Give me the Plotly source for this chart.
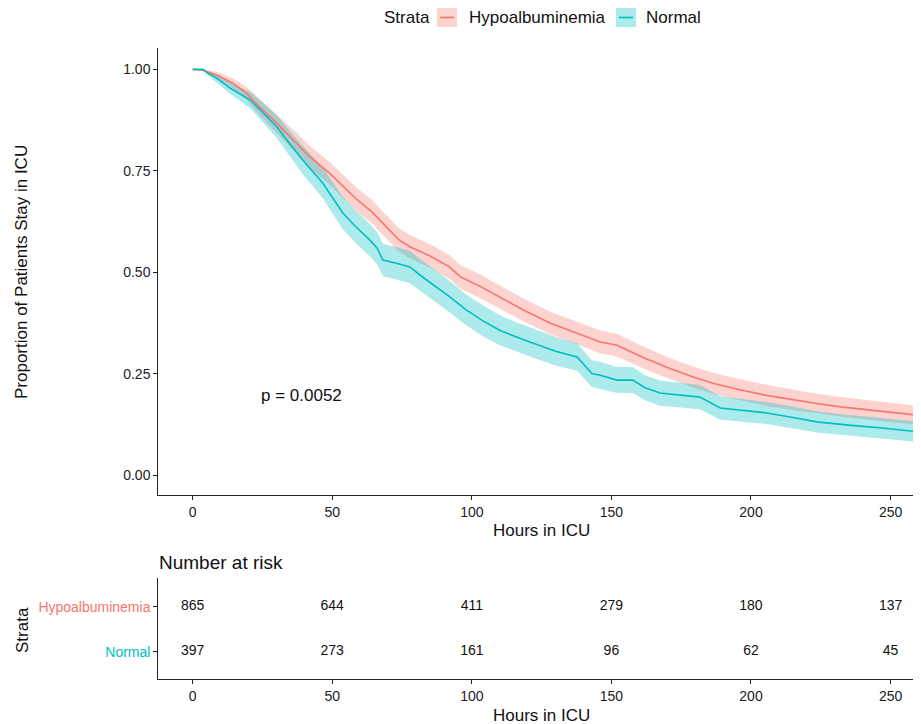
import plotly.graph_objects as go

# ---------------- data ----------------
hypo_t = [0, 3.7, 9, 14.4, 19.4, 24, 30, 36, 42, 49, 54, 59, 64, 68, 74, 78, 85, 92, 96, 103,
          110, 119, 128, 137, 146, 152, 161, 170, 179, 187, 196, 205, 215, 223, 232, 245, 258, 262]
hypo_s = [1.0, 0.998, 0.985, 0.966, 0.94, 0.907, 0.868, 0.826, 0.784, 0.744, 0.71, 0.678, 0.65,
          0.621, 0.579, 0.562, 0.54, 0.513, 0.488, 0.465, 0.439, 0.405, 0.375, 0.352, 0.328, 0.32,
          0.291, 0.265, 0.242, 0.225, 0.21, 0.197, 0.185, 0.177, 0.168, 0.158, 0.148, 0.146]
hypo_lo = [1.0, 0.996, 0.977, 0.954, 0.924, 0.887, 0.845, 0.801, 0.757, 0.716, 0.681, 0.649, 0.621,
           0.592, 0.550, 0.533, 0.511, 0.484, 0.459, 0.436, 0.410, 0.377, 0.347, 0.324, 0.300, 0.292,
           0.264, 0.239, 0.216, 0.199, 0.184, 0.171, 0.160, 0.153, 0.144, 0.134, 0.125, 0.123]
hypo_hi = [1.0, 1.0, 0.993, 0.978, 0.956, 0.927, 0.891, 0.851, 0.811, 0.772, 0.739, 0.707, 0.679,
           0.650, 0.608, 0.591, 0.569, 0.542, 0.517, 0.494, 0.468, 0.433, 0.403, 0.380, 0.356, 0.348,
           0.318, 0.291, 0.268, 0.251, 0.236, 0.223, 0.210, 0.201, 0.192, 0.182, 0.171, 0.169]

norm_t = [0, 3.7, 5.5, 8.7, 13.4, 20.5, 25, 30.2, 35, 39.5, 46.6, 50, 53.8, 58, 63.5, 66, 68.2, 74,
          77.8, 82, 87.5, 92, 98, 104, 110, 116, 122, 130, 137.7, 143, 146, 152, 157.7, 162, 167.4,
          175, 181.7, 189, 196, 205.7, 214, 223.6, 235, 247, 260.5, 262]
norm_s = [1.0, 1.0, 0.99, 0.978, 0.954, 0.925, 0.895, 0.858, 0.815, 0.776, 0.72, 0.685, 0.646, 0.615,
          0.579, 0.56, 0.53, 0.52, 0.513, 0.49, 0.463, 0.44, 0.407, 0.38, 0.357, 0.34, 0.325, 0.305,
          0.291, 0.25, 0.246, 0.234, 0.234, 0.215, 0.202, 0.197, 0.192, 0.165, 0.16, 0.153, 0.143,
          0.131, 0.123, 0.116, 0.106, 0.105]
norm_lo = [1.0, 1.0, 0.985, 0.968, 0.940, 0.905, 0.871, 0.830, 0.783, 0.741, 0.682, 0.646, 0.606,
           0.575, 0.539, 0.520, 0.490, 0.480, 0.473, 0.450, 0.424, 0.401, 0.369, 0.342, 0.320, 0.304,
           0.289, 0.270, 0.257, 0.217, 0.213, 0.202, 0.202, 0.184, 0.171, 0.167, 0.162, 0.136, 0.132,
           0.126, 0.116, 0.105, 0.098, 0.091, 0.081, 0.080]
norm_hi = [1.0, 1.0, 0.995, 0.988, 0.968, 0.945, 0.919, 0.886, 0.847, 0.811, 0.758, 0.724, 0.686,
           0.655, 0.619, 0.600, 0.570, 0.560, 0.553, 0.530, 0.502, 0.479, 0.445, 0.418, 0.394, 0.376,
           0.361, 0.340, 0.325, 0.283, 0.279, 0.266, 0.266, 0.246, 0.233, 0.227, 0.222, 0.194, 0.188,
           0.180, 0.170, 0.157, 0.148, 0.141, 0.131, 0.130]

risk_times = [0, 50, 100, 150, 200, 250]
risk_hypo = [865, 644, 411, 279, 180, 137]
risk_norm = [397, 273, 161, 96, 62, 45]

strata = ["Hypoalbuminemia", "Normal"]
x_ticks = [0, 50, 100, 150, 200, 250]
y_ticks = [0, 0.25, 0.5, 0.75, 1.0]
y_ticklabels = ["0.00", "0.25", "0.50", "0.75", "1.00"]
p_text = "p = 0.0052"

# ---------------- styling ----------------
RED = "#F8766D"
TEAL = "#00BFC4"
RED_F = "rgba(248,118,109,0.32)"
TEAL_F = "rgba(0,191,196,0.32)"
FONT = "Liberation Sans, Arial, sans-serif"
OFF = 8  # page body margin
W, H = 921 - OFF, 724 - OFF


def py(px):  # page pixel (from top) -> paper y
    return 1 - (px - OFF) / H


def pxx(px):  # page pixel (from left) -> paper x
    return (px - OFF) / W


fig = go.Figure()

# confidence bands
for t, lo, hi, fc in [(hypo_t, hypo_lo, hypo_hi, RED_F), (norm_t, norm_lo, norm_hi, TEAL_F)]:
    fig.add_trace(go.Scatter(x=list(t) + list(t)[::-1], y=list(hi) + list(lo)[::-1],
                             fill="toself", fillcolor=fc, line=dict(width=0),
                             mode="lines", hoverinfo="skip", showlegend=False,
                             xaxis="x", yaxis="y"))
# survival lines
for t, s, c, name in [(hypo_t, hypo_s, RED, strata[0]), (norm_t, norm_s, TEAL, strata[1])]:
    fig.add_trace(go.Scatter(x=t, y=s, mode="lines", line=dict(color=c, width=1.6),
                             name=name, showlegend=False, xaxis="x", yaxis="y"))

# risk table
fig.add_trace(go.Scatter(x=risk_times, y=[2] * len(risk_times), mode="text",
                         text=[str(v) for v in risk_hypo],
                         textfont=dict(size=14, color="#111", family=FONT),
                         showlegend=False, xaxis="x2", yaxis="y2", hoverinfo="skip"))
fig.add_trace(go.Scatter(x=risk_times, y=[1] * len(risk_times), mode="text",
                         text=[str(v) for v in risk_norm],
                         textfont=dict(size=14, color="#111", family=FONT),
                         showlegend=False, xaxis="x2", yaxis="y2", hoverinfo="skip"))

xdom = [pxx(158.3), 1.0]
xr = [-12.3, 260.9]
axis_common = dict(showline=True, linecolor="#222", linewidth=1.1, ticks="outside",
                   ticklen=4, tickcolor="#222", tickwidth=1.1, showgrid=False, zeroline=False,
                   tickfont=dict(size=14, color="#222", family=FONT), automargin=False)

fig.update_layout(
    width=W, height=H,
    margin=dict(l=0, r=0, t=0, b=0),
    paper_bgcolor="white", plot_bgcolor="white",
    font=dict(family=FONT, color="#111"),
    xaxis=dict(domain=xdom, range=xr, tickvals=x_ticks, anchor="y", **axis_common),
    yaxis=dict(domain=[py(495), py(48)], range=[-0.0493, 1.0527], tickvals=y_ticks,
               ticktext=y_ticklabels, anchor="x", **axis_common),
    xaxis2=dict(domain=xdom, range=xr, tickvals=x_ticks, anchor="y2", **axis_common),
    yaxis2=dict(domain=[py(679.3), py(578)], range=[0.39, 2.64], tickvals=[2, 1],
                ticktext=[f'<span style="color:{RED}">{strata[0]}</span>',
                          f'<span style="color:{TEAL}">{strata[1]}</span>'],
                anchor="x2", **axis_common),
    showlegend=False,
)

ann = []
TF = dict(family=FONT, size=17, color="#111")
# axis titles
ann.append(dict(text="Hours in ICU", x=pxx(541), y=py(530), xref="paper", yref="paper",
                showarrow=False, font=TF, xanchor="center", yanchor="middle"))
ann.append(dict(text="Hours in ICU", x=pxx(541), y=py(715), xref="paper", yref="paper",
                showarrow=False, font=TF, xanchor="center", yanchor="middle"))
ann.append(dict(text="Proportion of Patients Stay in ICU", x=pxx(22), y=py(272), xref="paper",
                yref="paper", showarrow=False, font=TF, textangle=-90,
                xanchor="center", yanchor="middle"))
ann.append(dict(text="Strata", x=pxx(22), y=py(630), xref="paper", yref="paper",
                showarrow=False, font=TF, textangle=-90, xanchor="center", yanchor="middle"))
ann.append(dict(text="Number at risk", x=pxx(157), y=py(562), xref="paper", yref="paper",
                showarrow=False, font=dict(family=FONT, size=19, color="#111"),
                xanchor="left", yanchor="middle"))
# p-value
ann.append(dict(text=p_text, x=23.7, y=0.197, xref="x", yref="y", showarrow=False,
                font=TF, xanchor="left", yanchor="middle"))
# legend
ann.append(dict(text="Strata", x=pxx(382), y=py(17), xref="paper", yref="paper",
                showarrow=False, font=TF, xanchor="left", yanchor="middle"))
ann.append(dict(text=strata[0], x=pxx(467), y=py(17), xref="paper", yref="paper",
                showarrow=False, font=TF, xanchor="left", yanchor="middle"))
ann.append(dict(text=strata[1], x=pxx(644), y=py(17), xref="paper", yref="paper",
                showarrow=False, font=TF, xanchor="left", yanchor="middle"))
fig.update_layout(annotations=ann)

shapes = []
for x0, fc, lc in [(437, RED_F, RED), (616, TEAL_F, TEAL)]:
    shapes.append(dict(type="rect", xref="paper", yref="paper", x0=pxx(x0), x1=pxx(x0 + 20),
                       y0=py(27), y1=py(8), fillcolor=fc, line=dict(width=0)))
    shapes.append(dict(type="line", xref="paper", yref="paper", x0=pxx(x0 + 3), x1=pxx(x0 + 17),
                       y0=py(17.5), y1=py(17.5), line=dict(color=lc, width=1.6)))
fig.update_layout(shapes=shapes)

fig.write_html("out.html")
